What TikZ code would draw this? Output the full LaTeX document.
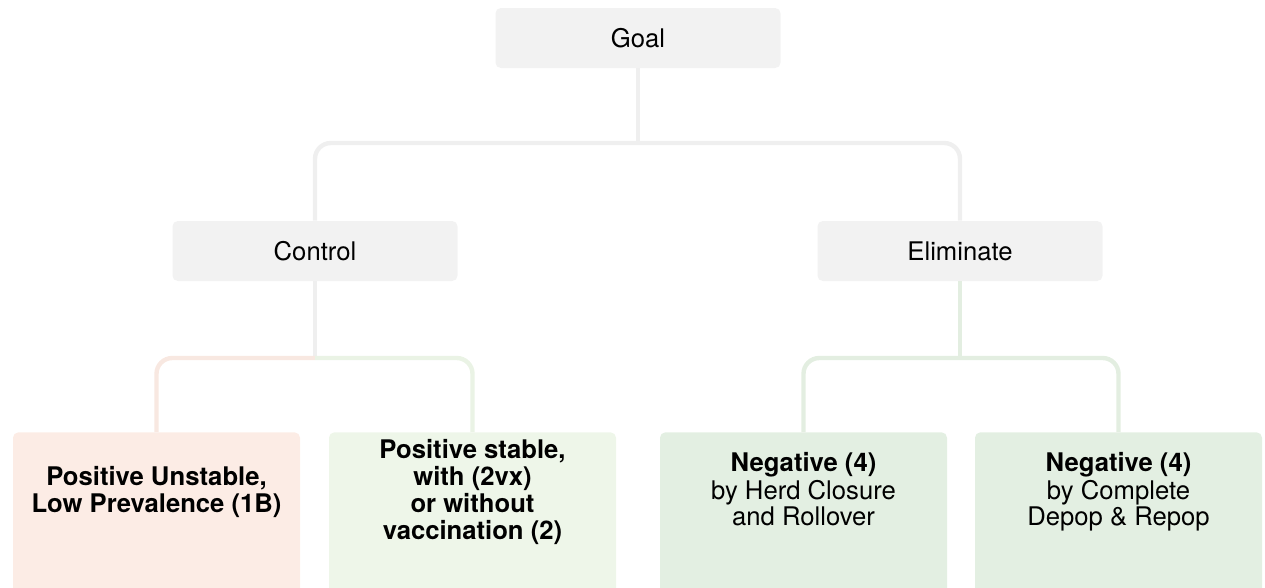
\documentclass[tikz,border=0pt]{standalone}
\usepackage{fontspec}
\setmainfont{TeX Gyre Heros}
\usetikzlibrary{positioning}

\definecolor{boxgray}{HTML}{F2F2F2}
\definecolor{boxpink}{HTML}{FCECE5}
\definecolor{boxlime}{HTML}{EEF6E9}
\definecolor{boxgreen}{HTML}{E3EFE2}
\definecolor{linegray}{HTML}{EFEFEF}
\definecolor{linepink}{HTML}{F8E8E1}
\definecolor{linelime}{HTML}{EAF3E5}
\definecolor{linegreen}{HTML}{E3EEE1}

% lift the text of a leaf box into the upper part of the box
\newcommand{\leaftext}[1]{\raisebox{0pt}[\height][\dimexpr\depth+1.56cm\relax]{\begin{tabular}{@{}c@{}}#1\end{tabular}}}

\begin{document}
\begin{tikzpicture}[
    font=\fontsize{14.6}{15.2}\selectfont,
    midbox/.style={
        rectangle, rounded corners=3pt, fill=boxgray,
        minimum width=5.7cm, minimum height=1.2cm, align=center
    },
    leafbox/.style={
        rectangle, rounded corners=3pt, fill=#1,
        minimum width=5.74cm, minimum height=4cm, inner sep=0pt, anchor=north
    },
    link/.style={line width=2.5pt, rounded corners=9pt, draw=#1},
    link/.default=linegray
]
\useasboundingbox (0,0) rectangle (25.3,-11.74);
\clip (0,0) rectangle (25.3,-11.74);

% Top and middle level
\node[midbox] (goal)    at (12.76,-0.76) {Goal};
\node[midbox] (control) at (6.3,-5.02)   {Control};
\node[midbox] (elim)    at (19.2,-5.02)  {Eliminate};

% Four leaf boxes (they run on past the bottom edge)
\node[leafbox=boxpink]  (unstable) at (3.13,-8.64)
    {\leaftext{\bfseries Positive Unstable,\\ \bfseries Low Prevalence (1B)}};
\node[leafbox=boxlime]  (stable)   at (9.45,-8.64)
    {\leaftext{\bfseries Positive stable,\\ \bfseries with (2vx)\\ \bfseries or without\\ \bfseries vaccination (2)}};
\node[leafbox=boxgreen] (closure)  at (16.07,-8.64)
    {\leaftext{\bfseries Negative (4)\\ by Herd Closure\\ and Rollover}};
\node[leafbox=boxgreen] (depop)    at (22.37,-8.64)
    {\leaftext{\bfseries Negative (4)\\ by Complete\\ Depop \& Repop}};

% Split points of the tree
\coordinate (gsplit) at (12.76,-2.86);
\coordinate (csplit) at (6.3,-7.16);
\coordinate (esplit) at (19.2,-7.16);

% Connectors
\draw[link] (goal.south) -- (gsplit);
\draw[link] (control.north) |- (gsplit) -| (elim.north);

\draw[link] (control.south) -- (csplit);
\draw[link=linepink] (unstable.north) |- (csplit);
\draw[link=linelime] (csplit) -| (stable.north);

\draw[link=linegreen] (elim.south) -- (esplit);
\draw[link=linegreen] (closure.north) |- (esplit) -| (depop.north);

\end{tikzpicture}
\end{document}
